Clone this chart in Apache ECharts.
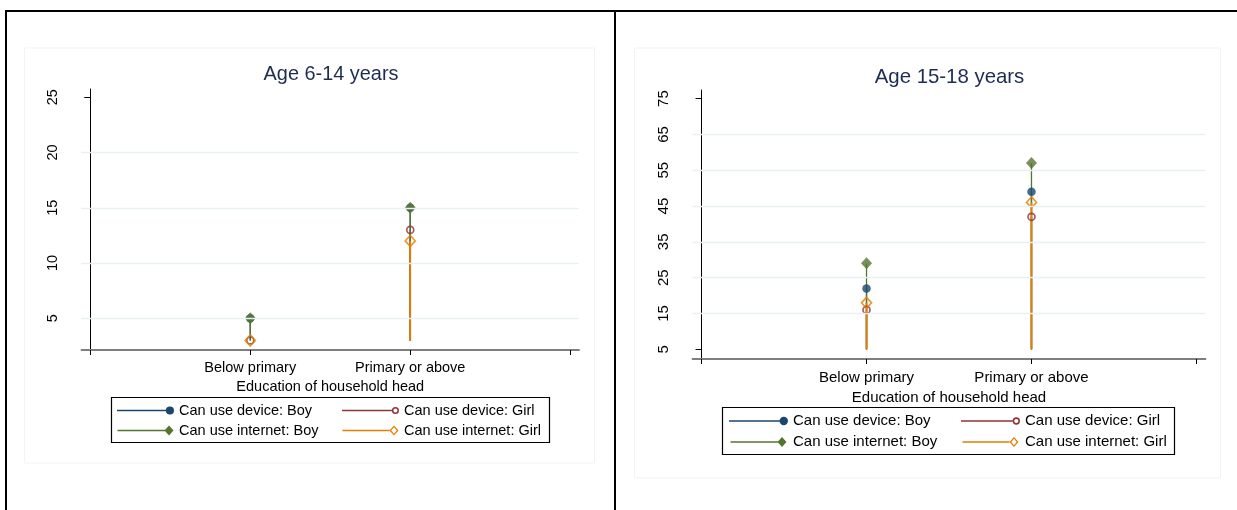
<!DOCTYPE html>
<html>
<head>
<meta charset="utf-8">
<title>Device and internet use by education of household head</title>
<script src="https://cdn.jsdelivr.net/npm/echarts@6.0.0/dist/echarts.min.js"></script>
<style>
    html,body{margin:0;padding:0;background:#fff;}
    #container{width:1237px;height:510px;}
</style>
</head>
<body>
<div id="container"></div>
<script>
// 类别 (x = 1, 2)
var categories = ['Below primary', 'Primary or above'];
var catPos = [1, 2];
var xTicks = [0, 1, 2, 3];

// Age 6-14 years
var youngDeviceBoy = [5, 15];
var youngDeviceGirl = [3, 13];
var youngNetBoy = [5, 15];
var youngNetGirl = [3, 12];
var youngTicks = [5, 10, 15, 20, 25];
var youngGridLines = [5, 10, 15, 20];
var youngBase = 3;

// Age 15-18 years
var olderDeviceBoy = [22, 49];
var olderDeviceGirl = [16, 42];
var olderNetBoy = [29, 57];
var olderNetGirl = [18, 46];
var olderTicks = [5, 15, 25, 35, 45, 55, 65, 75];
var olderGridLines = [15, 25, 35, 45, 55, 65];
var olderBase = 5;

var seriesNames = ['Can use device: Boy', 'Can use device: Girl', 'Can use internet: Boy', 'Can use internet: Girl'];
var colors = ['#1a476f', '#90353b', '#55752f', '#e37e00'];
var FONT = '"Liberation Sans", Arial, sans-serif';

function pairs(vals) {
    var out = [];
    for (var i = 0; i < vals.length; i++) {
        out.push([catPos[i], vals[i]]);
    }
    return out;
}

// dropline: from base up to value
function dropRender(base, color, width) {
    return function (params, api) {
        var top = api.coord([api.value(0), api.value(1)]);
        var bottom = api.coord([api.value(0), base]);
        return {
            type: 'line',
            shape: {x1: top[0], y1: top[1], x2: bottom[0], y2: bottom[1]},
            style: {stroke: color, lineWidth: width}
        };
    };
}

var markerStyles = [
    {symbol: 'circle', size: 8.5, hollow: false},
    {symbol: 'circle', size: 7, hollow: true},
    {symbol: 'diamond', size: [11, 12], hollow: false},
    {symbol: 'diamond', size: [10, 11], hollow: true}
];

function panelSeries(idx, lists, base, gridLines) {
    var out = [];
    for (var s = 0; s < lists.length; s++) {
        var m = markerStyles[s];
        out.push({
            name: seriesNames[s],
            type: 'custom',
            xAxisIndex: idx,
            yAxisIndex: idx,
            renderItem: dropRender(base, colors[s], s == 3 ? 1.8 : 1.3),
            data: pairs(lists[s]),
            silent: true
        });
        out.push({
            name: seriesNames[s],
            type: 'scatter',
            xAxisIndex: idx,
            yAxisIndex: idx,
            symbol: m.symbol,
            symbolSize: m.size,
            itemStyle: m.hollow ? {color: 'rgba(255,255,255,0)', borderColor: colors[s], borderWidth: 1.7}
                                : {color: colors[s]},
            data: pairs(lists[s]),
            silent: true
        });
    }
    // grid lines
    var ml = [];
    for (var g = 0; g < gridLines.length; g++) ml.push({yAxis: gridLines[g]});
    out.unshift({
        type: 'line',
        xAxisIndex: idx,
        yAxisIndex: idx,
        data: [],
        silent: true,
        markLine: {
            symbol: 'none',
            silent: true,
            label: {show: false},
            lineStyle: {color: '#e9f0f2', width: 1.3, type: 'solid'},
            data: ml
        }
    });
    return out;
}

// 图例图标
var ICONS = [
    'path://M0,-0.8 L50,-0.8 L50,0.8 L0,0.8 Z M52,-4 A4,4 0 1,1 52,4 A4,4 0 1,1 52,-4 Z',
    'path://M0,-0.8 L49,-0.8 L49,0.8 L0,0.8 Z M52.5,-3.5 A3.5,3.5 0 1,1 52.5,3.5 A3.5,3.5 0 1,1 52.5,-3.5 Z M52.5,-2 A2,2 0 1,0 52.5,2 A2,2 0 1,0 52.5,-2 Z',
    'path://M0,-0.8 L48,-0.8 L48,0.8 L0,0.8 Z M51.5,-5 L56,0 L51.5,5 L47,0 Z',
    'path://M0,-0.8 L47,-0.8 L47,0.8 L0,0.8 Z M51.5,-5 L56,0 L51.5,5 L47,0 Z M51.5,-3.2 L48.8,0 L51.5,3.2 L54.2,0 Z'
];

function legendData(list) {
    var out = [];
    for (var i = 0; i < list.length; i++) {
        var s = list[i];
        out.push({name: seriesNames[s], icon: ICONS[s], itemStyle: {color: colors[s], borderWidth: 0}});
    }
    return out;
}

function legendAt(left, top, list, size, gap, w) {
    return {
        left: left,
        top: top,
        orient: 'vertical',
        padding: 0,
        itemGap: gap,
        itemWidth: w,
        itemHeight: 10,
        selectedMode: false,
        textStyle: {fontFamily: FONT, fontSize: size, color: '#000'},
        data: legendData(list)
    };
}

function xAxisFor(idx, size, nameGap, margin) {
    return {
        type: 'value',
        gridIndex: idx,
        min: -0.055,
        max: 3.055,
        name: 'Education of household head',
        nameLocation: 'middle',
        nameGap: nameGap,
        nameTextStyle: {fontFamily: FONT, fontSize: size, color: '#000'},
        axisLine: {show: true, onZero: false, lineStyle: {color: '#7f7f7f', width: 1.8}},
        axisTick: {show: true, length: 5, customValues: xTicks, lineStyle: {color: '#000', width: 1}},
        axisLabel: {
            customValues: catPos,
            margin: margin,
            fontFamily: FONT,
            fontSize: size,
            color: '#000',
            formatter: function (v) { return categories[catPos.indexOf(v)] || ''; }
        },
        splitLine: {show: false}
    };
}

function yAxisFor(idx, min, max, ticks, size) {
    return {
        type: 'value',
        gridIndex: idx,
        min: min,
        max: max,
        axisLine: {show: true, lineStyle: {color: '#000', width: 1}},
        axisTick: {show: true, length: 6, customValues: ticks, lineStyle: {color: '#000'}},
        axisLabel: {
            customValues: ticks,
            rotate: 90,
            margin: 21,
            fontFamily: FONT,
            fontSize: size,
            color: '#000'
        },
        splitLine: {show: false}
    };
}

var myChart = echarts.init(document.getElementById('container'), null, {renderer: 'canvas'});

var option = {
    backgroundColor: '#ffffff',
    animation: false,
    grid: [
        {left: 81.5, top: 89, width: 497.5, height: 261},
        {left: 692.5, top: 90, width: 513, height: 269}
    ],
    xAxis: [xAxisFor(0, 14.5, 25, 10), xAxisFor(1, 15, 26, 11)],
    yAxis: [
        yAxisFor(0, 2.13, 25.75, youngTicks, 14.5),
        yAxisFor(1, 2.3, 77.4, olderTicks, 15)
    ],
    legend: [
        legendAt(117, 403, [0, 2], 14.5, 5, 57),
        legendAt(342, 403, [1, 3], 14.5, 5, 57),
        legendAt(729, 413.5, [0, 2], 15, 6, 59),
        legendAt(961, 413.5, [1, 3], 15, 6, 59)
    ],
    graphic: [
        // outer frame
        {type: 'line', z: 100, shape: {x1: 5, y1: 11, x2: 1237, y2: 11}, style: {stroke: '#000', lineWidth: 2}},
        {type: 'line', z: 100, shape: {x1: 6, y1: 10, x2: 6, y2: 510}, style: {stroke: '#000', lineWidth: 2}},
        {type: 'line', z: 100, shape: {x1: 615, y1: 10, x2: 615, y2: 510}, style: {stroke: '#000', lineWidth: 2}},
        // faint graph region
        {type: 'rect', z: -1, shape: {x: 24.5, y: 48, width: 570, height: 415}, style: {fill: 'none', stroke: '#f3f3f3', lineWidth: 1}},
        {type: 'rect', z: -1, shape: {x: 634.5, y: 48, width: 586, height: 430}, style: {fill: 'none', stroke: '#f3f3f3', lineWidth: 1}},
        // legend boxes
        {type: 'rect', z: -1, shape: {x: 111.5, y: 397.5, width: 438, height: 45}, style: {fill: '#fff', stroke: '#000', lineWidth: 1.2}},
        {type: 'rect', z: -1, shape: {x: 722.5, y: 407.5, width: 452, height: 47}, style: {fill: '#fff', stroke: '#000', lineWidth: 1.2}},
        // titles
        {type: 'text', style: {text: 'Age 6-14 years', x: 331, y: 75, align: 'center', verticalAlign: 'middle', font: '19.9px ' + FONT, fill: '#1e2c52'}},
        {type: 'text', style: {text: 'Age 15-18 years', x: 949.5, y: 77, align: 'center', verticalAlign: 'middle', font: '20.4px ' + FONT, fill: '#1e2c52'}}
    ],
    series: [].concat(
        panelSeries(0, [youngDeviceBoy, youngDeviceGirl, youngNetBoy, youngNetGirl], youngBase, youngGridLines),
        panelSeries(1, [olderDeviceBoy, olderDeviceGirl, olderNetBoy, olderNetGirl], olderBase, olderGridLines)
    )
};

if (option && typeof option === "object") {
    myChart.setOption(option, true);
}
</script>
</body>
</html>
